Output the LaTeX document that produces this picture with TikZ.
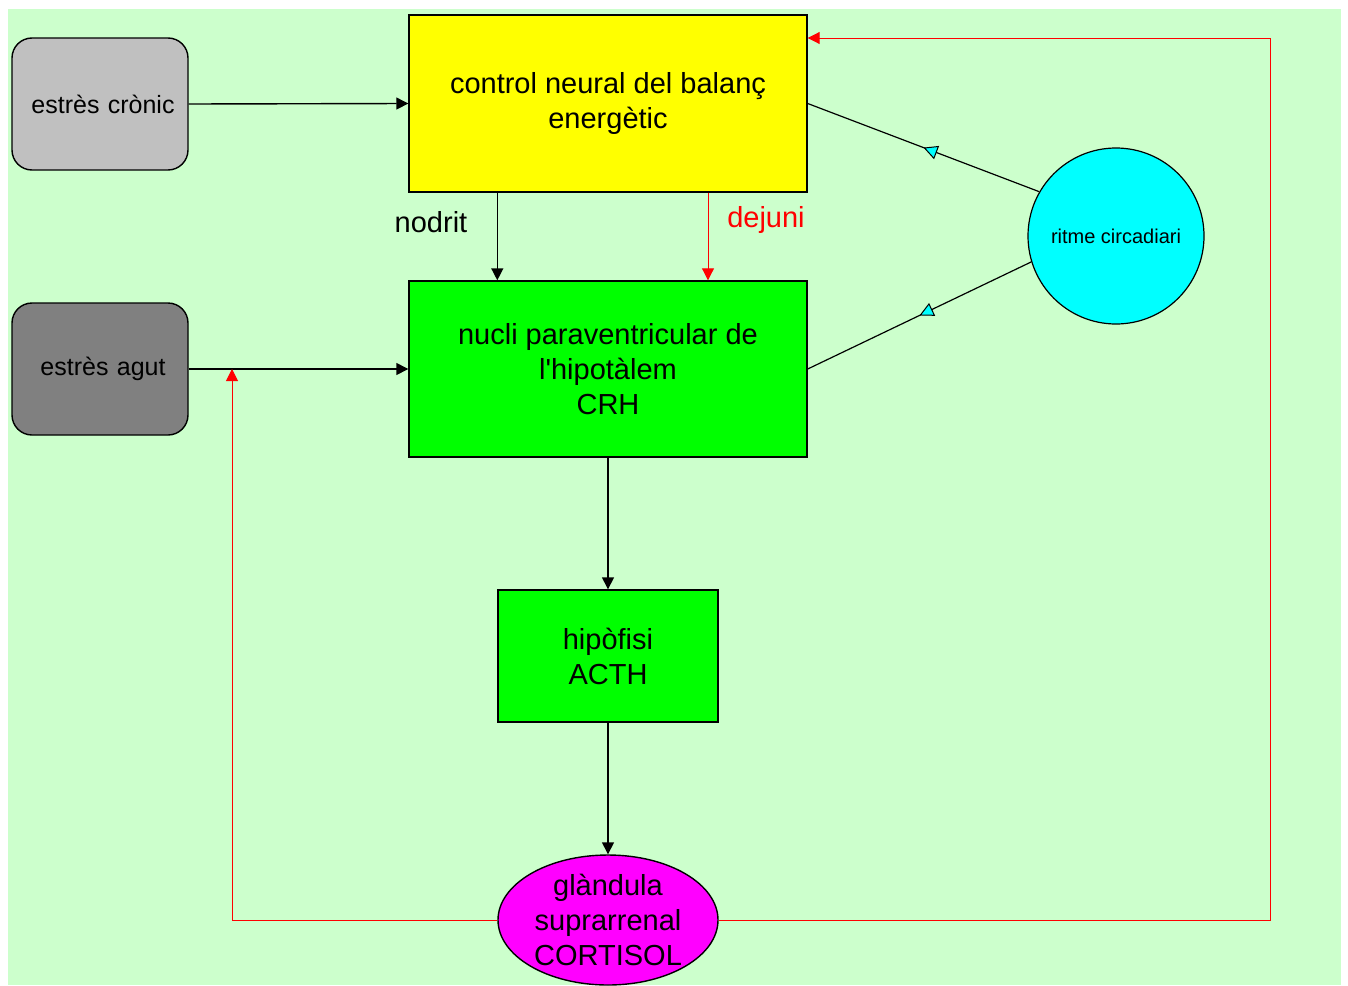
\documentclass[tikz,border=0pt]{standalone}
\usepackage{fontspec}
\setmainfont{Liberation Sans}
\usetikzlibrary{arrows.meta,shapes.geometric,decorations.markings}
\definecolor{bg}{HTML}{CCFFCC}
\definecolor{grisclar}{HTML}{C0C0C0}
\definecolor{grisfosc}{HTML}{808080}
\definecolor{groc}{HTML}{FFFF00}
\definecolor{verd}{HTML}{00FF00}
\definecolor{magenta2}{HTML}{FF00FF}
\definecolor{cian}{HTML}{00FFFF}
\definecolor{vermell}{HTML}{FF0000}
\begin{document}
\begin{tikzpicture}[x=0.5pt,y=-0.5pt,
  box/.style={draw=black, line width=0.7pt, align=center, inner sep=2pt,
    font=\fontsize{14.5}{17.5}\selectfont},
  stressbox/.style={box, rounded corners=10pt, minimum width=88pt, minimum height=66pt,
    font=\fontsize{12.5}{15}\selectfont},
  txt/.style={align=center, inner sep=0pt, font=\fontsize{14.5}{17.5}\selectfont},
  blackarrow/.style={draw=black, line width=0.7pt, -{Triangle[length=6pt,width=6pt]}},
  redarrow/.style={draw=vermell, line width=0.5pt, -{Triangle[length=6pt,width=6pt]}},
  cyanline/.style={draw=black, line width=0.6pt, postaction={decorate},
    decoration={markings, mark=at position 0.5 with
      {\arrow[line width=0.5pt]{Triangle[length=7pt,width=7pt,fill=cian]}}}}
]
\useasboundingbox (0,0) rectangle (1348,985);
\fill[bg] (8,9) rectangle (1341,985);

% nodes
\node[stressbox, fill=grisclar, text width=84pt] (cronic) at (100,104) {\hspace*{3pt}estrès crònic};
\node[stressbox, fill=grisfosc, text width=84pt] (agut) at (100,369) {\hspace*{3pt}estrès agut};
\node[box, fill=groc, minimum width=199pt, minimum height=88.5pt] (ctrl) at (608,103.5)
  {control neural del balanç\\energètic};
\node[box, fill=verd, minimum width=199pt, minimum height=88pt] (nucli) at (608,369)
  {nucli paraventricular de\\l\textquotesingle hipotàlem\\CRH};
\node[box, fill=verd, minimum width=110pt, minimum height=66pt] (hipo) at (608,656)
  {hipòfisi\\ACTH};
\node[ellipse, draw=black, line width=0.7pt, fill=magenta2, inner sep=0pt,
  minimum width=110pt, minimum height=65pt] (glan) at (608,920) {};
\node[txt] (glantxt) at (glan.center) {glàndula\\suprarrenal\\CORTISOL};
\node[circle, draw=black, line width=0.6pt, fill=cian, minimum size=88pt, inner sep=0pt,
  font=\fontsize{10}{12}\selectfont] (circ) at (1116,236) {ritme circadiari};

% labels
\node[txt] (nodrit) at (431,222) {nodrit};
\node[txt, text=vermell] (dejuni) at (766,220) {dejuni};

% connectors
\draw[blackarrow] (cronic.east) -- (ctrl.west);
\draw[blackarrow] (agut.east) -- (nucli.west);
\draw[blackarrow] (ctrl.south -| hipo.west) -- (nucli.north -| hipo.west);
\draw[redarrow] ([xshift=50pt]ctrl.south) -- ([xshift=50pt]nucli.north);
\draw[blackarrow] (nucli.south) -- (hipo.north);
\draw[blackarrow] (hipo.south) -- (glan.north);

\coordinate (fbL) at (232,369);
\coordinate (fbR) at (1270,38);
\draw[redarrow] (glan.west) -| (fbL);
\draw[redarrow] (glan.east) -| (fbR) -- (ctrl.east |- fbR);

\draw[cyanline] (circ.150) -- (ctrl.east);
\draw[cyanline] (circ.197) -- (nucli.east);
\end{tikzpicture}
\end{document}
